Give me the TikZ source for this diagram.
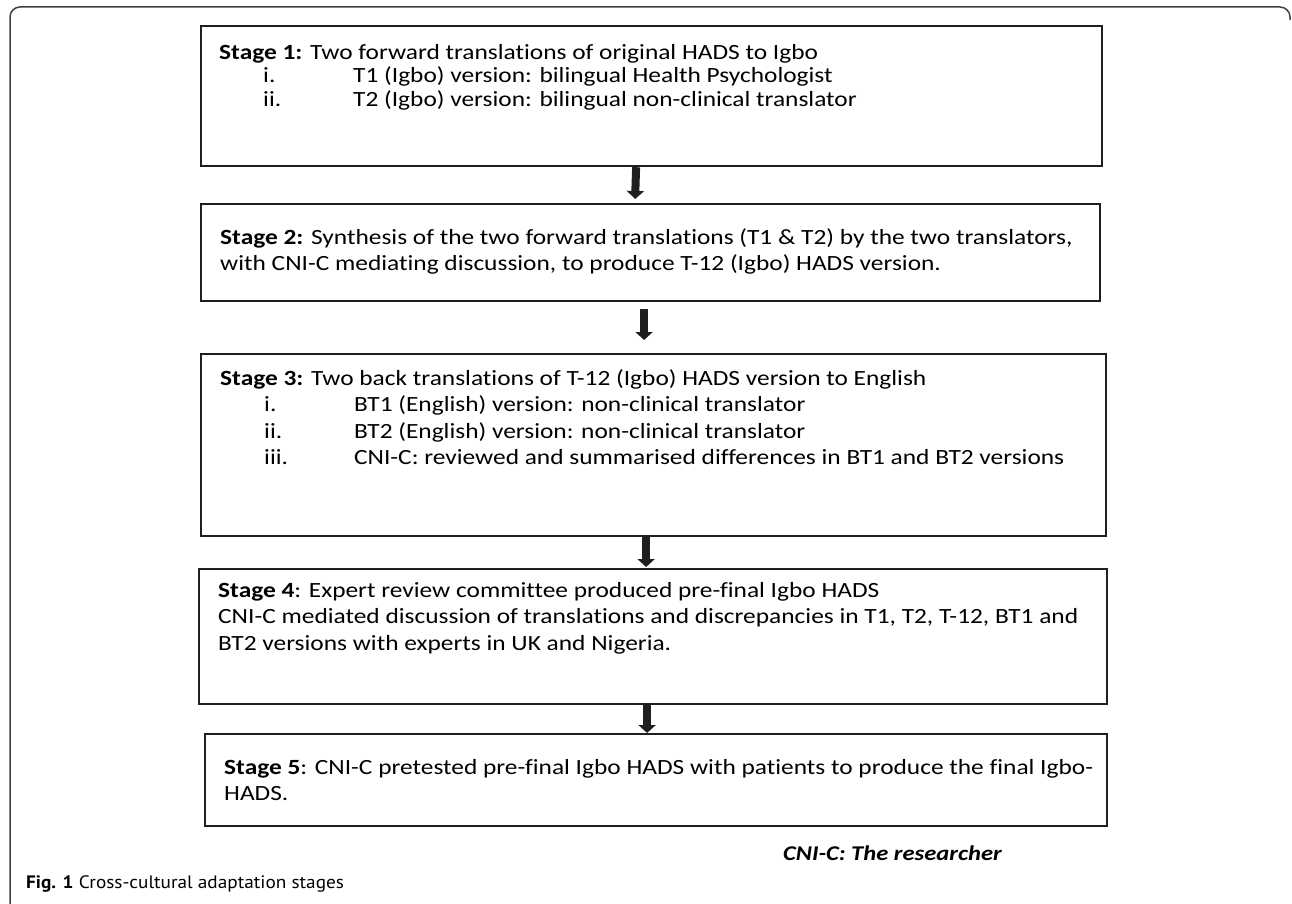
\documentclass[tikz,border=0pt]{standalone}
\usepackage{fontspec}
\setmainfont{Carlito}[FakeStretch=1.17, Ligatures=NoCommon]
\newfontfamily\capfont{PT Sans}[FakeStretch=1.07]
\usetikzlibrary{arrows.meta,calc}

\begin{document}
\begin{tikzpicture}[x=1pt, y=-1pt,
  stagebox/.style={draw=black!88, line width=2.2pt, inner sep=0pt, anchor=north west},
  stagetext/.style={anchor=north west, inner sep=0pt, align=left, font=\fontsize{21.7}{26.5}\selectfont},
  flow/.style={draw=black!88, line width=8pt, -{Triangle[width=17pt, length=8pt]}}]

  \newcommand\itm[2]{\hspace*{44pt}\makebox[90pt][l]{#1}#2}
  \newcommand\topline{\rule{0pt}{16pt}}

  \useasboundingbox (0,0) rectangle (1292,904);

  %% outer frame
  \draw[black!75, line width=1.5pt, rounded corners=10pt] (10,904) -- (10,7) -- (1290,7) -- (1290,20);

  %% boxes
  \node[stagebox, minimum width=901pt, minimum height=140pt] (s1) at (200,25) {};
  \node[stagebox, minimum width=899pt, minimum height=97pt]  (s2) at (200,203) {};
  \node[stagebox, minimum width=905pt, minimum height=182pt] (s3) at (200,353) {};
  \node[stagebox, minimum width=908pt, minimum height=135pt] (s4) at (198,568) {};
  \node[stagebox, minimum width=902pt, minimum height=92pt]  (s5) at (204,733) {};

  %% texts (first baseline 16pt below the node top)
  \node[stagetext, font=\fontsize{21.7}{23.5}\selectfont] (t1) at ($(s1.north west)+(19,18)$)
    {\topline\textbf{Stage 1:} Two forward translations of original HADS to Igbo\\
     \itm{i.}{T1 (Igbo) version: bilingual Health Psychologist}\\
     \itm{ii.}{T2 (Igbo) version: bilingual non-clinical translator}};
  \node[stagetext] (t2) at ($(s2.north west)+(20,25)$)
    {\topline\textbf{Stage 2:} Synthesis of the two forward translations (T1 \& T2) by the two translators,\\
     with CNI-C mediating discussion, to produce T-12 (Igbo) HADS version.};
  \node[stagetext] (t3) at ($(s3.north west)+(20,16)$)
    {\topline\textbf{Stage 3:} Two back translations of T-12 (Igbo) HADS version to English\\
     \itm{i.}{BT1 (English) version: non-clinical translator}\\
     \itm{ii.}{BT2 (English) version: non-clinical translator}\\
     \itm{iii.}{CNI-C: reviewed and summarised differences in BT1 and BT2 versions}};
  \node[stagetext] (t4) at ($(s4.north west)+(20,13)$)
    {\topline\textbf{Stage 4}: Expert review committee produced pre-final Igbo HADS\\
     CNI-C mediated discussion of translations and discrepancies in T1, T2, T-12, BT1 and\\
     BT2 versions with experts in UK and Nigeria.};
  \node[stagetext] (t5) at ($(s5.north west)+(20,25)$)
    {\topline\textbf{Stage 5}: CNI-C pretested pre-final Igbo HADS with patients to produce the final Igbo-\\
     HADS.};

  %% arrows
  \draw[flow] ([xshift=-15.5pt]s1.south) -- ([xshift=-15.5pt, yshift=4pt]s2.north);
  \draw[flow] ([xshift=-6.5pt, yshift=-7pt]s2.south) -- ([xshift=-9.5pt, yshift=13pt]s3.north);
  \draw[flow] ([xshift=-7.5pt]s3.south) -- ([xshift=-7pt, yshift=1pt]s4.north);
  \draw[flow] ([xshift=-6pt]s4.south) -- ([xshift=-9pt]s5.north);

  %% notes
  \node[anchor=base west, inner sep=0pt, font=\fontsize{21}{24}\selectfont\bfseries\itshape] (note) at (783,860) {CNI-C: The researcher};
  \node[anchor=base west, inner sep=0pt, font=\fontsize{18}{20}\selectfont\capfont] (cap) at (26,888) {\textbf{Fig. 1} Cross-cultural adaptation stages};
\end{tikzpicture}
\end{document}
